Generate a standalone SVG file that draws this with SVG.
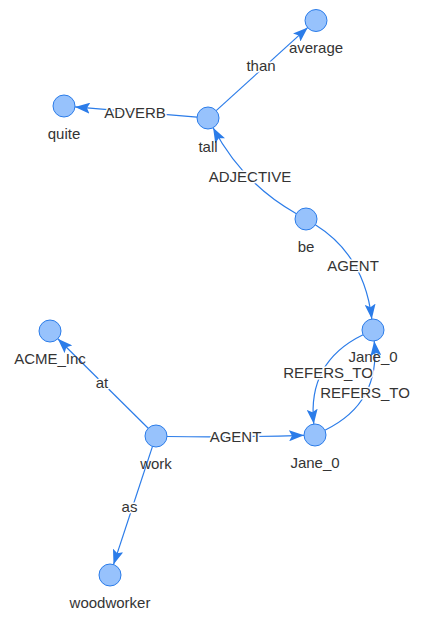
<svg xmlns="http://www.w3.org/2000/svg" width="425" height="620" viewBox="0 0 425 620">
<style>
.edge{fill:none;stroke:#2B7CE9;stroke-width:1.2;marker-end:url(#arr)}
.node circle{fill:#97C2FC;stroke:#2B7CE9;stroke-width:1}
text{font-family:"Liberation Sans",Arial,sans-serif;font-size:15px;fill:#343434;text-anchor:middle}
.elabel{stroke:#fff;stroke-width:3;paint-order:stroke;stroke-linejoin:round}
</style>
<defs>
<marker id="arr" markerUnits="userSpaceOnUse" markerWidth="15" markerHeight="11" refX="15" refY="5.5" orient="auto">
<path d="M0,0 L15,5.5 L0,11 L3,5.5 Z" fill="#2B7CE9"/>
</marker>
</defs>
<rect width="425" height="620" fill="#fff"/>
<g id="connectors">
<path class="edge" d="M216.2,110.6 L307.8,27.4"/>
<path class="edge" d="M197,117.1 L75,106.9"/>
<path class="edge" d="M296.4,213.7 Q243,184 213.1,127.7"/>
<path class="edge" d="M315.3,224.8 Q364.5,255.5 371.8,319.1"/>
<path class="edge" d="M363.1,334.8 Q307,362 313.8,424.1"/>
<path class="edge" d="M324.9,430.2 Q381,403 374.2,340.9"/>
<path class="edge" d="M148.2,428.3 L57.8,338.7"/>
<path class="edge" d="M167,436.5 Q235,437.5 304,435.3"/>
<path class="edge" d="M152.5,446.4 L113.5,564.6"/>
<text class="elabel" x="261" y="70.5">than</text>
<text class="elabel" x="135" y="117.5">ADVERB</text>
<text class="elabel" x="250" y="181.5">ADJECTIVE</text>
<text class="elabel" x="353" y="270.5">AGENT</text>
<text class="elabel" x="328" y="378">REFERS_TO</text>
<text class="elabel" x="365" y="397.5">REFERS_TO</text>
<text class="elabel" x="102" y="388">at</text>
<text class="elabel" x="235.5" y="442">AGENT</text>
<text class="elabel" x="129.5" y="511.5">as</text>
</g>
<g id="node-average" class="node"><circle cx="316" cy="20.5" r="11"/><text x="316" y="53">average</text></g>
<g id="node-quite" class="node"><circle cx="64" cy="106" r="11"/><text x="64" y="138.5">quite</text></g>
<g id="node-tall" class="node"><circle cx="208" cy="118" r="11"/><text x="208" y="151.5">tall</text></g>
<g id="node-be" class="node"><circle cx="306" cy="219" r="11"/><text x="306" y="252">be</text></g>
<g id="node-jane-top" class="node"><circle cx="373" cy="330" r="11"/><text x="373" y="362">Jane_0</text></g>
<g id="node-acme" class="node"><circle cx="50" cy="331" r="11"/><text x="50" y="364">ACME_Inc</text></g>
<g id="node-work" class="node"><circle cx="156" cy="436" r="11"/><text x="156" y="469">work</text></g>
<g id="node-jane-bottom" class="node"><circle cx="315" cy="435" r="11"/><text x="315" y="468">Jane_0</text></g>
<g id="node-woodworker" class="node"><circle cx="110" cy="575" r="11"/><text x="110" y="608">woodworker</text></g>
</svg>
